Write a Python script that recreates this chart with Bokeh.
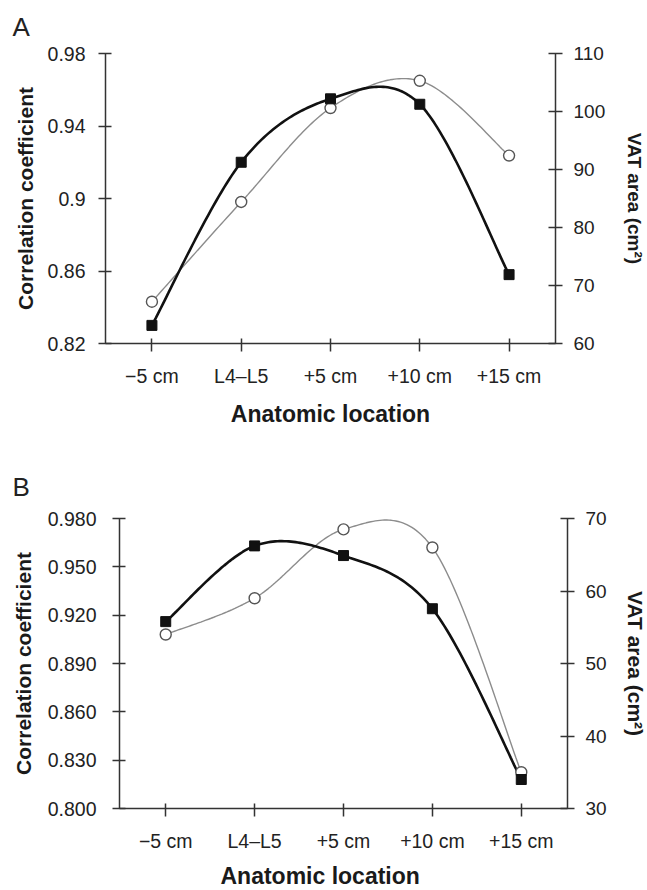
import numpy as np
from bokeh.plotting import figure
from bokeh.models import (Range1d, LinearAxis, FixedTicker, Title, NumeralTickFormatter)
from bokeh.layouts import column
from bokeh.embed import file_html
from bokeh.resources import INLINE

# ---------------- data ----------------
locations = ["\u22125 cm", "L4\u2013L5", "+5 cm", "+10 cm", "+15 cm"]
x_pos = [0, 1, 2, 3, 4]

# Panel A
corr_a = [0.830, 0.920, 0.955, 0.952, 0.858]
vat_a = [67.2, 84.4, 100.6, 105.3, 92.4]
corr_ticks_a = [0.82, 0.86, 0.90, 0.94, 0.98]
corr_labels_a = ["0.82", "0.86", "0.9", "0.94", "0.98"]
vat_ticks_a = [60, 70, 80, 90, 100, 110]

# Panel B
corr_b = [0.916, 0.963, 0.957, 0.924, 0.818]
vat_b = [54.0, 59.0, 68.5, 66.0, 35.0]
corr_ticks_b = [0.80, 0.83, 0.86, 0.89, 0.92, 0.95, 0.98]
vat_ticks_b = [30, 40, 50, 60, 70]

FONT = "Liberation Sans"
W = 645


def smooth(xs, ys, n=40):
    """Excel-like smoothed line (cubic Bezier, 1/6 tension) through the points."""
    P = np.column_stack([np.asarray(xs, float), np.asarray(ys, float)])
    m = len(P)
    out = []
    t = np.linspace(0, 1, n)[:, None]
    for i in range(m - 1):
        p0 = P[i - 1] if i > 0 else P[i]
        p1 = P[i]
        p2 = P[i + 1]
        p3 = P[i + 2] if i + 2 < m else P[i + 1]
        c1 = p1 + (p2 - p0) / 6.0
        c2 = p2 - (p3 - p1) / 6.0
        seg = ((1 - t) ** 3) * p1 + 3 * ((1 - t) ** 2) * t * c1 + 3 * (1 - t) * t ** 2 * c2 + t ** 3 * p2
        out.append(seg if i == 0 else seg[1:])
    S = np.vstack(out)
    return S[:, 0].tolist(), S[:, 1].tolist()


def style_axis(ax, size="19.5px"):
    ax.axis_line_color = "#333333"
    ax.axis_line_width = 1.5
    ax.major_tick_line_color = "#333333"
    ax.major_tick_line_width = 1.5
    ax.major_tick_in = 6
    ax.major_tick_out = 7
    ax.minor_tick_line_color = None
    ax.major_label_text_font = FONT
    ax.major_label_text_font_size = size
    ax.major_label_text_color = "#222222"
    ax.axis_label_text_font = FONT
    ax.axis_label_text_font_style = "bold"
    ax.axis_label_text_color = "#1a1a1a"


def make_panel(letter, corr, vat, cticks, clabels, cfmt, crange, vticks, vrange,
               frame_left, frame_w, top, bottom, height, letter_standoff,
               left_lab_standoff, left_title_standoff, right_title_size,
               right_title_standoff, x_title_offset=None):
    p = figure(width=W, height=height, frame_width=frame_w, frame_height=290,
               min_border_left=frame_left, min_border_right=W - frame_left - frame_w,
               min_border_top=top, min_border_bottom=bottom,
               x_range=Range1d(-0.52, 4.52), y_range=Range1d(*crange),
               output_backend="svg", toolbar_location=None,
               background_fill_color="white", border_fill_color="white")
    p.frame_align = False
    p.outline_line_color = None
    p.grid.visible = False
    p.extra_y_ranges = {"vat": Range1d(*vrange)}

    # panel letter
    p.title.text = letter
    p.title.align = "left"
    p.title.vertical_align = "top"
    p.title.offset = 12 - frame_left
    p.title.text_font = FONT
    p.title.text_font_size = "26px"
    p.title.text_font_style = "normal"
    p.title.text_color = "#222222"
    p.title.standoff = letter_standoff

    xa = p.xaxis[0]
    style_axis(xa)
    xa.ticker = FixedTicker(ticks=x_pos)
    xa.major_label_overrides = {k: v for k, v in zip(x_pos, locations)}
    xa.major_label_standoff = 13
    xa.major_tick_in = 5
    xa.major_tick_out = 8
    if x_title_offset is None:
        xa.axis_label = "Anatomic location"
        xa.axis_label_text_font_size = "23px"
        xa.axis_label_standoff = 11
    else:
        p.add_layout(Title(text="Anatomic location", align="left", offset=x_title_offset,
                           text_font=FONT, text_font_size="23px", text_font_style="bold",
                           text_color="#1a1a1a", standoff=12), "below")

    ya = p.yaxis[0]
    style_axis(ya)
    ya.ticker = FixedTicker(ticks=cticks)
    if clabels is not None:
        ya.major_label_overrides = {k: v for k, v in zip(cticks, clabels)}
    if cfmt is not None:
        ya.formatter = NumeralTickFormatter(format=cfmt)
    ya.major_label_standoff = left_lab_standoff
    ya.axis_label = "Correlation coefficient"
    ya.axis_label_text_font_size = "21px"
    ya.axis_label_standoff = left_title_standoff

    ra = LinearAxis(y_range_name="vat")
    style_axis(ra, size="19px")
    ra.ticker = FixedTicker(ticks=vticks)
    ra.major_label_standoff = 11
    ra.major_tick_in = 7
    ra.axis_label = "VAT area (cm\u00b2)"
    ra.axis_label_text_font_size = right_title_size
    ra.axis_label_standoff = right_title_standoff
    p.add_layout(ra, "right")

    gx, gy = smooth(x_pos, vat)
    bx, by = smooth(x_pos, corr)
    p.line(gx, gy, y_range_name="vat", line_color="#8c8c8c", line_width=1.4)
    p.line(bx, by, line_color="#111111", line_width=2.6)
    p.scatter(x_pos, vat, y_range_name="vat", marker="circle", size=11,
              fill_color="white", line_color="#555555", line_width=1.4)
    p.scatter(x_pos, corr, marker="square", size=10,
              fill_color="#111111", line_color="#111111")
    return p


pa = make_panel("A", corr_a, vat_a, corr_ticks_a, corr_labels_a, None, (0.82, 0.98),
                vat_ticks_a, (60, 110),
                frame_left=105, frame_w=450, top=53, bottom=97, height=440,
                letter_standoff=20,
                left_lab_standoff=13, left_title_standoff=8,
                right_title_size="19px", right_title_standoff=16)
pb = make_panel("B", corr_b, vat_b, corr_ticks_b, None, "0.000", (0.80, 0.98),
                vat_ticks_b, (30, 70),
                frame_left=119, frame_w=448, top=78, bottom=82, height=450,
                letter_standoff=30,
                left_lab_standoff=16, left_title_standoff=10,
                right_title_size="21px", right_title_standoff=14,
                x_title_offset=101)

layout = column(pa, pb, spacing=0)
open("out.html", "w").write(file_html(layout, INLINE))
